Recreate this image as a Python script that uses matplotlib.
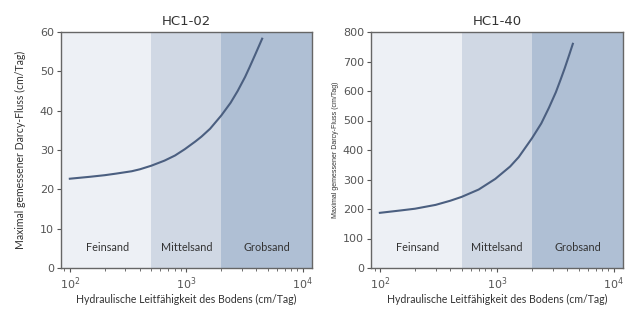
import numpy as np
import matplotlib
matplotlib.use("Agg")
import matplotlib.pyplot as plt
from matplotlib.ticker import LogLocator, NullFormatter

# Data
k_02 = [100, 150, 200, 250, 340, 400, 500, 650, 800, 970, 1200, 1350, 1600,
        2000, 2400, 2760, 3200, 3500, 3870, 4200, 4480]
flux_02 = [22.7, 23.2, 23.6, 24.0, 24.6, 25.1, 26.0, 27.3, 28.6, 30.2, 32.2, 33.4,
           35.4, 38.8, 42.0, 45.0, 48.6, 51.1, 54.0, 56.4, 58.3]

k_40 = [100, 150, 200, 300, 400, 500, 700, 970, 1300, 1540, 2000, 2400, 2790,
        3200, 3500, 3800, 4150, 4470]
flux_40 = [187, 195, 201, 214, 228, 241, 266, 302, 344, 376, 440, 490, 543,
           596, 637, 676, 721, 760]

zone_names = ["Feinsand", "Mittelsand", "Grobsand"]
zone_edges = [84, 500, 2000, 12000]
zone_label_x = [210, 1000, 4900]
zone_colors = ["#edf0f5", "#d0d8e4", "#afbfd4"]

panels = [
    ("HC1-02", k_02, flux_02, 60, 10),
    ("HC1-40", k_40, flux_40, 800, 100),
]

LINE = "#4b5f80"
TXT = "#333333"
TICK = "#555555"

fig = plt.figure(figsize=(6.33, 3.09), dpi=100)
W, H = 633, 309
boxes = [(61, 32, 312, 268), (371, 32, 623, 268)]

for i, (title, k, flux, ymax, ystep) in enumerate(panels):
    x0, y0, x1, y1 = boxes[i]
    ax = fig.add_axes([x0 / W, 1 - y1 / H, (x1 - x0) / W, (y1 - y0) / H])
    ax.set_xscale("log")
    ax.set_xlim(zone_edges[0], zone_edges[-1])
    ax.set_ylim(0, ymax)

    for j, name in enumerate(zone_names):
        ax.axvspan(zone_edges[j], zone_edges[j + 1], color=zone_colors[j], lw=0, zorder=0)
        ax.text(zone_label_x[j], 0.085, name, transform=ax.get_xaxis_transform(),
                ha="center", va="center", fontsize=7.8, family="Lato", color=TXT)

    ax.plot(k, flux, color=LINE, lw=1.5, zorder=3, solid_joinstyle="round")

    ax.set_yticks(np.arange(0, ymax + 1, ystep))
    ax.xaxis.set_major_locator(LogLocator(base=10, numticks=5))
    ax.xaxis.set_minor_locator(LogLocator(base=10, subs=np.arange(2, 10), numticks=20))
    ax.xaxis.set_minor_formatter(NullFormatter())
    ax.tick_params(axis="both", labelsize=8, colors=TICK, length=3, width=0.8, pad=2)
    ax.tick_params(axis="x", which="minor", length=2, width=0.6, colors=TICK)
    for s in ax.spines.values():
        s.set_color("#666666")
        s.set_linewidth(1.0)

    ax.set_title(title, fontsize=9.5, color=TXT, pad=5)
    ax.set_xlabel("Hydraulische Leitfähigkeit des Bodens (cm/Tag)", fontsize=7.6,
                  family="Lato", color=TXT, labelpad=2)
    if i == 0:
        ax.set_ylabel("Maximal gemessener Darcy-Fluss (cm/Tag)", fontsize=7.6,
                      family="Lato", color=TXT, labelpad=10)
    else:
        ax.set_ylabel("Maximal gemessener Darcy-Fluss (cm/Tag)", fontsize=5,
                      family="Liberation Sans", color=TXT, labelpad=3)

fig.savefig("out.png", dpi=100)
